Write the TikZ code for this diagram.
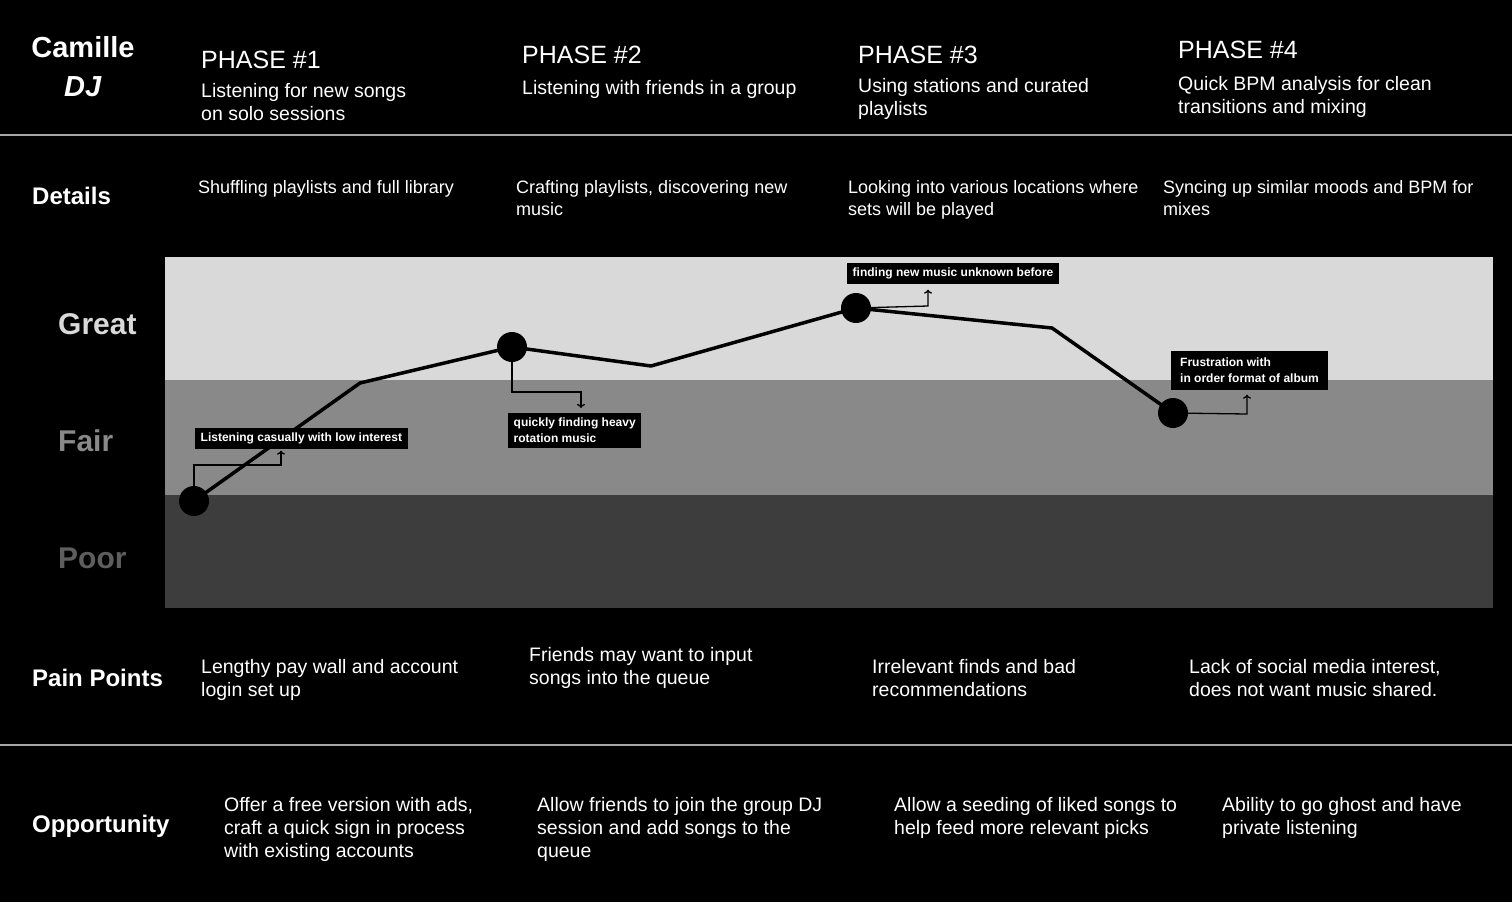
\documentclass[tikz,border=0pt]{standalone}
\usepackage{fontspec}
\setmainfont{Liberation Sans}
\usetikzlibrary{arrows.meta,positioning}

\definecolor{greatband}{HTML}{D9D9D9}
\definecolor{fairband}{HTML}{898989}
\definecolor{poorband}{HTML}{3D3D3D}
\definecolor{poortext}{HTML}{5E5E5E}
\definecolor{ruleline}{HTML}{A6A6A6}

\begin{document}
\begin{tikzpicture}[x=1pt, y=-1pt,
  phase/.style={anchor=north west, inner sep=0pt, text=white, font=\fontsize{25}{30}\selectfont},
  sub/.style={anchor=north west, inner sep=0pt, text=white, align=left, font=\fontsize{19.5}{23}\selectfont},
  detail/.style={sub, font=\fontsize{18}{22}\selectfont},
  rowlabel/.style={anchor=base west, inner sep=0pt, text=white, font=\fontsize{24}{28}\selectfont\bfseries},
  level/.style={anchor=base west, inner sep=0pt, font=\fontsize{30}{34}\selectfont\bfseries},
  dot/.style={circle, fill=black, minimum size=30pt, inner sep=0pt},
  trend/.style={line width=3.5pt, line join=round},
  callout/.style={anchor=north west, fill=black, text=white, align=left, inner xsep=5.5pt, inner ysep=5pt, font=\fontsize{12}{15.5}\selectfont\bfseries},
  pointer/.style={line width=1.3pt, -{To[length=4pt,width=8pt]}},
]
\fill[black] (0,0) rectangle (1512,902);
\useasboundingbox (0,0) rectangle (1512,902);

% header
\node[font=\fontsize{29}{39}\selectfont\bfseries, text=white, align=center] (persona) at (83,67) {Camille\\\textit{DJ}};
\node[phase] (ph1) at (201,51) {PHASE \#1};
\node[sub] (ph1sub) at (201,83) {Listening for new songs\\on solo sessions};
\node[phase] (ph2) at (522,46) {PHASE \#2};
\node[sub] (ph2sub) at (522,80) {Listening with friends in a group};
\node[phase] (ph3) at (858,46) {PHASE \#3};
\node[sub] (ph3sub) at (858,78) {Using stations and curated\\playlists};
\node[phase] (ph4) at (1178,41) {PHASE \#4};
\node[sub] (ph4sub) at (1178,76) {Quick BPM analysis for clean\\transitions and mixing};
\draw[ruleline, line width=1.5pt] (0,135) -- (1512,135);

% details
\node[rowlabel] (details) at (32,204) {Details};
\node[detail] (det1) at (198,180) {Shuffling playlists and full library};
\node[detail] (det2) at (516,180) {Crafting playlists, discovering new\\music};
\node[detail] (det3) at (848,180) {Looking into various locations where\\sets will be played};
\node[detail] (det4) at (1163,180) {Syncing up similar moods and BPM for\\mixes};

% experience chart
\fill[greatband] (165,257) rectangle (1493,380);
\fill[fairband] (165,380) rectangle (1493,495);
\fill[poorband] (165,495) rectangle (1493,608);
\node[level, text=greatband] (great) at (58,334) {Great};
\node[level, text=fairband] (fair) at (58,451) {Fair};
\node[level, text=poortext] (poor) at (58,568) {Poor};

\node[dot] (d1) at (194,501) {};
\node[dot] (d2) at (512,347) {};
\node[dot] (d3) at (856,308) {};
\node[dot] (d4) at (1173,413) {};
\coordinate (b1) at (360,383);
\coordinate (b2) at (651,366);
\coordinate (b3) at (1052,328);
\draw[trend] (d1.center) -- (b1) -- (d2.center) -- (b2) -- (d3.center) -- (b3) -- (d4.center);

\node[callout] (note1) at (195,428) {Listening casually with low interest};
\node[callout] (note2) at (508,413) {quickly finding heavy\\rotation music};
\node[callout] (note3) at (847,263) {finding new music unknown before};
\node[callout, inner xsep=9pt, inner ysep=7pt] (note4) at (1171,351) {Frustration with\\in order format of album};
\coordinate (k1) at (281,465);
\coordinate (k2) at (581,392);
\coordinate (k3) at (928,306);
\coordinate (k4) at (1247,414);
\draw[pointer, shorten >=1pt] (d1.north) |- (k1) -- (note1.south -| k1);
\draw[pointer, shorten >=5pt] (d2.south) |- (k2) -- (note2.north -| k2);
\draw[pointer, shorten >=5pt] (d3) -- (k3) -- (note3.south -| k3);
\draw[pointer, shorten >=5pt] (d4) -- (k4) -- (note4.south -| k4);

% pain points
\node[rowlabel] (pain) at (32,686) {Pain Points};
\node[sub] (pain1) at (201,659) {Lengthy pay wall and account\\login set up};
\node[sub] (pain2) at (529,647) {Friends may want to input\\songs into the queue};
\node[sub] (pain3) at (872,659) {Irrelevant finds and bad\\recommendations};
\node[sub] (pain4) at (1189,659) {Lack of social media interest,\\does not want music shared.};
\draw[ruleline, line width=1.5pt] (0,745) -- (1512,745);

% opportunity
\node[rowlabel] (opp) at (32,832) {Opportunity};
\node[sub] (opp1) at (224,797) {Offer a free version with ads,\\craft a quick sign in process\\with existing accounts};
\node[sub] (opp2) at (537,797) {Allow friends to join the group DJ\\session and add songs to the\\queue};
\node[sub] (opp3) at (894,797) {Allow a seeding of liked songs to\\help feed more relevant picks};
\node[sub] (opp4) at (1222,797) {Ability to go ghost and have\\private listening};
\end{tikzpicture}
\end{document}
